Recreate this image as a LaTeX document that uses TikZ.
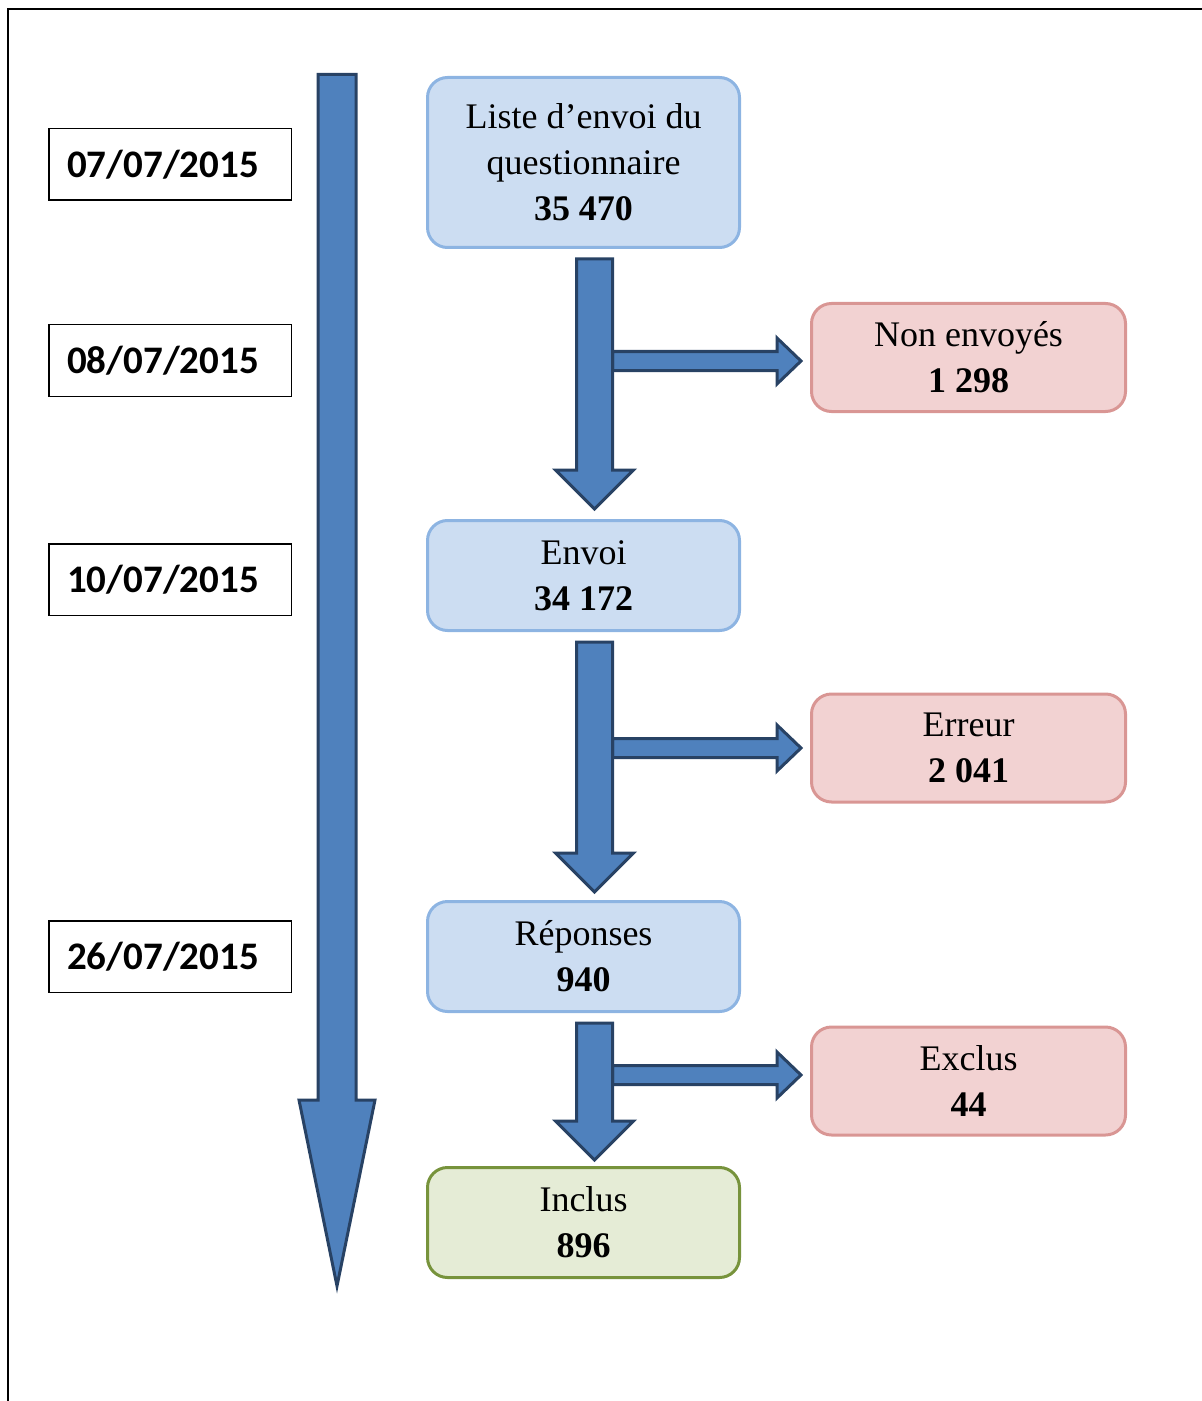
\documentclass[tikz,border=0pt]{standalone}
\usepackage{fontspec}
\setmainfont{Liberation Serif}
\newfontfamily\datefont{Carlito}
\usetikzlibrary{calc}
\definecolor{qblue}{RGB}{79,129,189}
\definecolor{qbluedark}{RGB}{40,66,100}
\definecolor{qboxblue}{RGB}{204,221,242}
\definecolor{qedgeblue}{RGB}{141,180,226}
\definecolor{qboxred}{RGB}{242,210,210}
\definecolor{qedgered}{RGB}{217,150,148}
\definecolor{qboxgreen}{RGB}{229,236,214}
\definecolor{qedgegreen}{RGB}{119,147,60}

\tikzset{
  stage/.style={draw=qedgeblue, fill=qboxblue, line width=1.5pt, rounded corners=10pt,
    minimum width=156pt, minimum height=55pt, inner sep=0pt, align=center,
    font=\fontsize{18}{23}\selectfont},
  lost/.style={stage, draw=qedgered, fill=qboxred, minimum width=157pt, minimum height=54pt},
  kept/.style={stage, draw=qedgegreen, fill=qboxgreen},
  datebox/.style={draw, line width=0.75pt, minimum width=121.25pt, minimum height=35.75pt,
    inner sep=0pt, font=\datefont\bfseries\fontsize{19.5}{24}\selectfont},
  flowarrow/.style={draw=qbluedark, fill=qblue, line width=1.5pt, line join=miter},
}

% down arrow between two stages
\newcommand{\flowdown}[3]{%
  \path ($(#1.south)+(11,10)$) coordinate (ds) ($(#2.north)+(11,-#3)$) coordinate (de);
  \draw[flowarrow] ($(ds)+(-18,0)$) -- ($(ds)+(18,0)$) -- ($(de)+(18,-39)$)
    -- ($(de)+(39,-39)$) -- (de) -- ($(de)+(-39,-39)$) -- ($(de)+(-18,-39)$) -- cycle;}
% side arrow from the down arrow to a lost box
\newcommand{\flowright}[3]{%
  \path ($(#1.south |- #2.west)+(29,#3)$) coordinate (rs) ($(#2.west)+(-9,#3)$) coordinate (re);
  \draw[flowarrow] ($(rs)+(0,-9.5)$) -- ($(re)+(-24,-9.5)$) -- ($(re)+(-24,-23)$)
    -- (re) -- ($(re)+(-24,23)$) -- ($(re)+(-24,9.5)$) -- ($(rs)+(0,9.5)$) -- cycle;}

\begin{document}
\begin{tikzpicture}[x=0.5pt,y=-0.5pt]
\useasboundingbox (0,0) rectangle (1201,1401);
% Frame
\draw[line width=1pt] (7.5,1420) |- (1220,9.5);

% Time line
\coordinate (ttop) at (337,74.5);
\coordinate (tbot) at (337,1286);
\draw[flowarrow] ($(ttop)+(-19,0)$) -- ($(ttop)+(19,0)$) -- ($(tbot)+(19,-186)$)
  -- ($(tbot)+(38,-186)$) -- (tbot) -- ($(tbot)+(-38,-186)$) -- ($(tbot)+(-19,-186)$) -- cycle;

% Dates
\node[datebox] (d1) at (170,164.5) {07/07/2015\kern7pt};
\node[datebox] (d2) at (170,360.5) {08/07/2015\kern7pt};
\node[datebox] (d3) at (170,579.5) {10/07/2015\kern7pt};
\node[datebox] (d4) at (170,956.5) {26/07/2015\kern7pt};

% Stages
\node[stage, minimum height=85pt] (liste) at (583.5,162.5) {Liste d’envoi du\\questionnaire\\\textbf{35 470}};
\node[stage] (envoi) at (583.5,575.5) {Envoi\\\textbf{34 172}};
\node[stage] (rep) at (583.5,956.5) {Réponses\\\textbf{940}};
\node[kept] (inclus) at (583.5,1222.5) {Inclus\\\textbf{896}};

% Losses
\node[lost] (nonenv) at (968.5,357.5) {Non envoyés\\\textbf{1 298}};
\node[lost] (erreur) at (968.5,748) {Erreur\\\textbf{2 041}};
\node[lost] (exclus) at (968.5,1081) {Exclus\\\textbf{44}};

% Arrows
\flowright{liste}{nonenv}{3.5}
\flowright{envoi}{erreur}{0}
\flowright{rep}{exclus}{-6}
\flowdown{liste}{envoi}{10}
\flowdown{envoi}{rep}{8}
\flowdown{rep}{inclus}{6}
\end{tikzpicture}
\end{document}
